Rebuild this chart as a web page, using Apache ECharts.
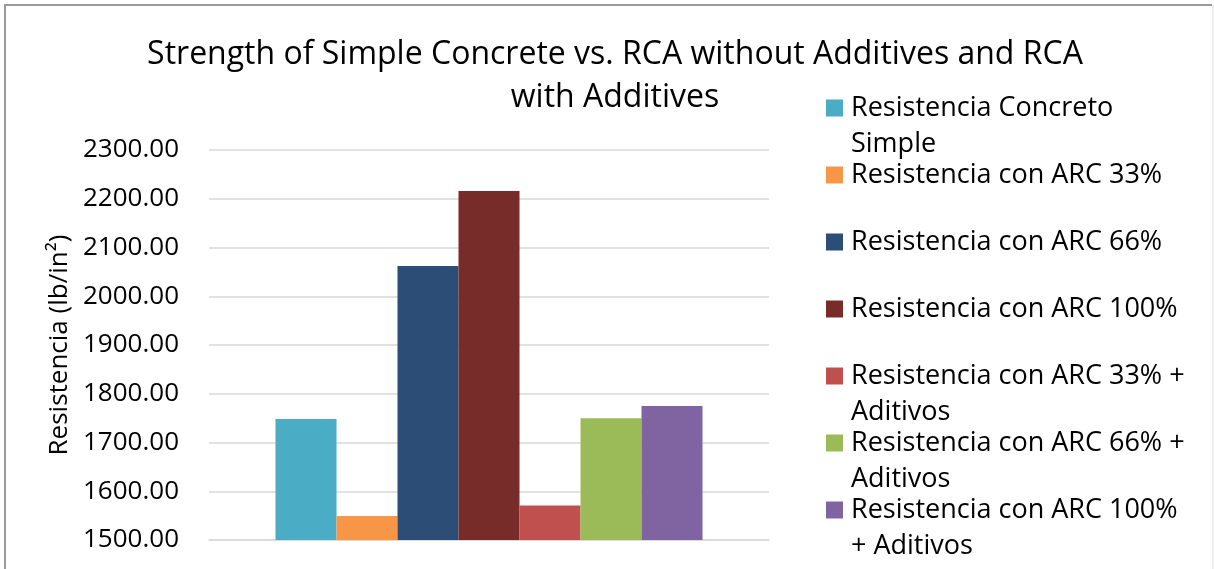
<!DOCTYPE html>
<html>
<head>
<meta charset="utf-8">
<title>Strength of Simple Concrete vs. RCA</title>
<script src="https://cdn.jsdelivr.net/npm/echarts@6/dist/echarts.min.js"></script>
<style>
  html, body { margin: 0; padding: 0; background: #ffffff; }
  #chart { width: 1214px; height: 569px; }
</style>
</head>
<body>
<div id="chart"></div>
<script>
// Compressive strength results (lb/in²), one bar per mix
const categories = [''];
const seriesNames = [
  'Resistencia Concreto Simple',
  'Resistencia con ARC 33%',
  'Resistencia con ARC 66%',
  'Resistencia con ARC 100%',
  'Resistencia con ARC 33% + Aditivos',
  'Resistencia con ARC 66% + Aditivos',
  'Resistencia con ARC 100% + Aditivos'
];
const seriesValues = [1748, 1549, 2062, 2216, 1571, 1750, 1775];
// Legend text as it wraps in the side panel
const legendLines = [
  ['Resistencia Concreto', 'Simple'],
  ['Resistencia con ARC 33%'],
  ['Resistencia con ARC 66%'],
  ['Resistencia con ARC 100%'],
  ['Resistencia con ARC 33% +', 'Aditivos'],
  ['Resistencia con ARC 66% +', 'Aditivos'],
  ['Resistencia con ARC 100%', '+ Aditivos']
];
const axisMin = 1500;
const axisMax = 2300;
const axisStep = 100;

const palette = ['#4BACC6', '#F79646', '#2C4D75', '#772C2A', '#C0504D', '#9BBB59', '#8064A2'];
const FONT = '"Open Sans", "Noto Sans", sans-serif';

const chart = echarts.init(document.getElementById('chart'), null, { renderer: 'canvas' });

// Every legend entry is padded to three lines so the swatch sits beside the first line
const legendText = {};
seriesNames.forEach((n, i) => {
  const l = legendLines[i];
  legendText[n] = l.length === 2 ? '\n' + l[0] + '\n' + l[1] : '\n' + l[0] + '\n ';
});

chart.setOption({
  animation: false,
  backgroundColor: '#ffffff',
  color: palette,
  title: {
    text: 'Strength of Simple Concrete vs. RCA without Additives and RCA\nwith Additives',
    left: 610,
    top: 28,
    textAlign: 'center',
    textStyle: {
      fontFamily: FONT,
      fontSize: 32,
      fontWeight: 'normal',
      color: '#000000',
      lineHeight: 43
    }
  },
  legend: {
    orient: 'vertical',
    left: 826,
    top: 54,
    padding: 0,
    itemGap: -41,
    itemWidth: 17,
    itemHeight: 17,
    icon: 'rect',
    data: seriesNames,
    formatter: name => legendText[name],
    textStyle: {
      fontFamily: FONT,
      fontSize: 27,
      color: '#000000',
      lineHeight: 36,
      padding: [0, 0, 0, 3]
    }
  },
  grid: {
    left: 209,
    right: 445,
    top: 150,
    bottom: 29,
    containLabel: false
  },
  xAxis: {
    type: 'category',
    data: categories,
    axisLabel: { show: false },
    axisTick: { show: false },
    axisLine: { show: true, lineStyle: { color: '#D9D9D9', width: 1.5 } }
  },
  yAxis: {
    type: 'value',
    min: axisMin,
    max: axisMax,
    interval: axisStep,
    name: 'Resistencia (lb/in²)',
    nameLocation: 'middle',
    nameGap: 136,
    nameRotate: 90,
    nameTextStyle: { fontFamily: FONT, fontSize: 26, color: '#000000' },
    axisLine: { show: false },
    axisTick: { show: false },
    axisLabel: {
      fontFamily: FONT,
      fontSize: 26,
      color: '#000000',
      margin: 30,
      formatter: v => v.toFixed(2)
    },
    splitLine: { show: true, lineStyle: { color: '#D9D9D9', width: 1.5 } }
  },
  series: seriesNames.map((name, i) => ({
    name: name,
    type: 'bar',
    data: [seriesValues[i]],
    barGap: '0%',
    barCategoryGap: '23.75%'
  })),
  graphic: [
    { type: 'line', shape: { x1: 4, y1: 5, x2: 1212, y2: 5 }, style: { stroke: '#9a9a9a', lineWidth: 2 }, silent: true },
    { type: 'line', shape: { x1: 5, y1: 4, x2: 5, y2: 569 }, style: { stroke: '#9a9a9a', lineWidth: 2 }, silent: true },
    { type: 'line', shape: { x1: 1213, y1: 5, x2: 1213, y2: 569 }, style: { stroke: '#dcdcdc', lineWidth: 1 }, silent: true }
  ]
});
</script>
</body>
</html>
